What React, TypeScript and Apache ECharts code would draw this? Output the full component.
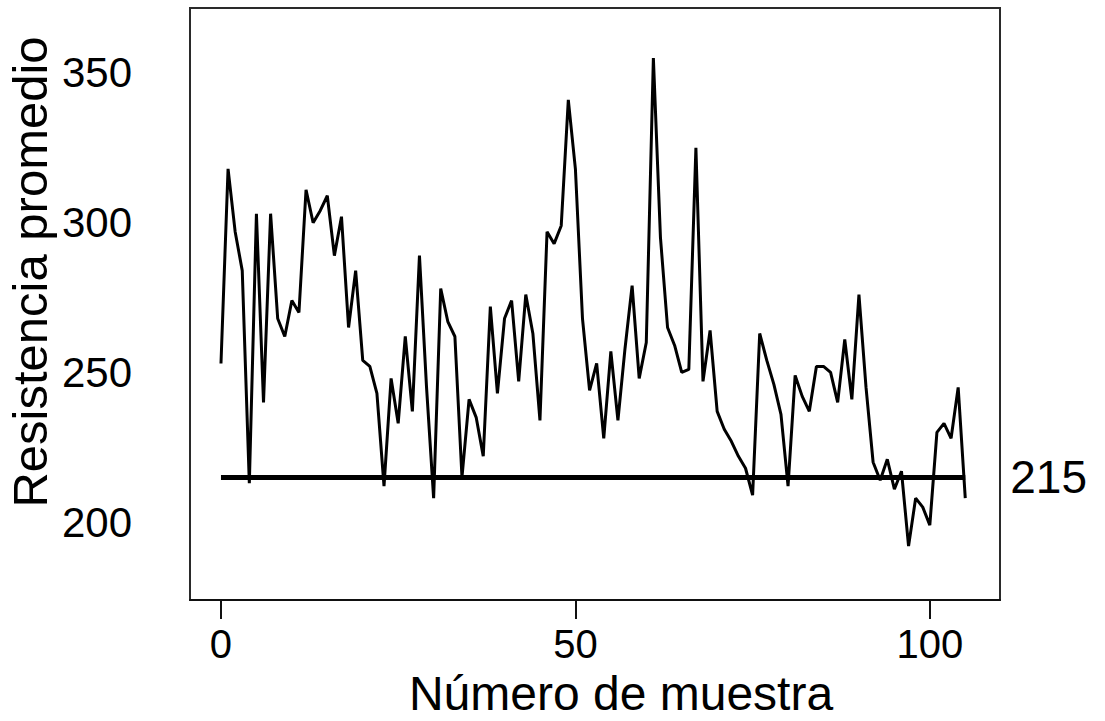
import React, { useEffect, useRef } from "react";
import * as echarts from "echarts";

// Resistencia promedio por número de muestra (0..105)
const resistance: number[] = [
  253, 318, 297, 284, 213, 303, 240, 303, 268, 262,
  274, 270, 311, 300, 304, 309, 289, 302, 265, 284,
  254, 252, 243, 212, 248, 233, 262, 237, 289, 245,
  208, 278, 267, 262, 215, 241, 235, 222, 272, 243,
  268, 274, 247, 276, 263, 234, 297, 293, 299, 341,
  318, 268, 244, 253, 228, 257, 234, 258, 279, 248,
  260, 355, 295, 265, 259, 250, 251, 325, 247, 264,
  237, 231, 227, 222, 218, 209, 263, 254, 246, 236,
  212, 249, 242, 237, 252, 252, 250, 240, 261, 241,
  276, 245, 220, 214, 221, 211, 217, 192, 208, 205,
  199, 230, 233, 228, 245, 208,
];
const referenceValue = 215;
const referenceLabel = "215";
const xTickValues = [0, 50, 100];
const yTickValues = [200, 250, 300, 350];
const xTitle = "Número de muestra";
const yTitle = "Resistencia promedio";

const FONT = "'Liberation Sans', Arial, Helvetica, sans-serif";

export default function App() {
  const ref = useRef<HTMLDivElement>(null);

  useEffect(() => {
    document.body.style.margin = "0";
    if (!ref.current) return;
    const chart = echarts.init(ref.current, null, { renderer: "svg" });
    const seriesData = resistance.map((v, i) => [i, v]);
    const lastIndex = resistance.length - 1;

    chart.setOption({
      animation: false,
      backgroundColor: "#ffffff",
      grid: {
        left: 190,
        top: 8,
        width: 810,
        height: 592,
        show: true,
        borderColor: "#2a2a2a",
        borderWidth: 2,
        backgroundColor: "transparent",
        outerBoundsMode: "none",
        containLabel: false,
      },
      xAxis: {
        type: "value",
        min: -4.37,
        max: 109.9,
        name: xTitle,
        nameLocation: "middle",
        nameGap: 69,
        nameMoveOverlap: false,
        nameTextStyle: {
          fontSize: 48,
          color: "#000",
          fontFamily: FONT,
          padding: [0, 0, 0, 52],
        },
        axisLine: { show: true, lineStyle: { color: "#111", width: 2 } },
        axisTick: {
          show: true,
          length: 19,
          lineStyle: { color: "#111", width: 2 },
          customValues: xTickValues,
        },
        axisLabel: {
          customValues: xTickValues,
          fontSize: 40,
          color: "#000",
          fontFamily: FONT,
          margin: 24,
        },
        splitLine: { show: false },
      },
      yAxis: {
        type: "value",
        min: 174,
        max: 371.7,
        name: yTitle,
        nameLocation: "middle",
        nameGap: 136,
        nameRotate: 90,
        nameMoveOverlap: false,
        nameTextStyle: {
          fontSize: 49,
          color: "#000",
          fontFamily: FONT,
          padding: [0, 0, 0, 64],
        },
        axisLine: { show: false },
        axisTick: { show: false },
        axisLabel: {
          customValues: yTickValues,
          fontSize: 42,
          color: "#000",
          fontFamily: FONT,
          margin: 58,
        },
        splitLine: { show: false },
      },
      series: [
        {
          type: "line",
          data: seriesData,
          symbol: "none",
          lineStyle: { color: "#000", width: 3 },
          z: 3,
          markLine: {
            silent: true,
            symbol: "none",
            lineStyle: { color: "#000", width: 5, type: "solid" },
            label: {
              show: true,
              position: "end",
              formatter: referenceLabel,
              fontSize: 46,
              color: "#000",
              fontFamily: FONT,
              distance: 45,
            },
            data: [
              [
                { coord: [0, referenceValue] },
                { coord: [lastIndex, referenceValue] },
              ],
            ],
          },
        },
      ],
    });

    return () => chart.dispose();
  }, []);

  return (
    <div
      ref={ref}
      style={{ position: "fixed", left: 0, top: 0, width: 1105, height: 721 }}
    />
  );
}
